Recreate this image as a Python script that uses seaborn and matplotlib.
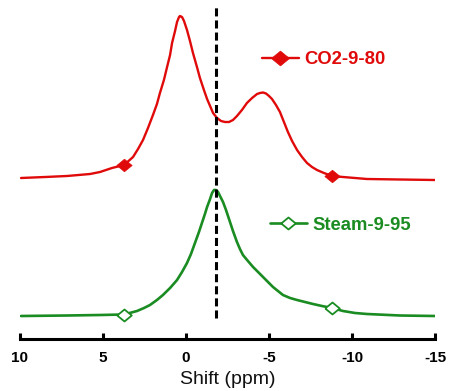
import matplotlib
matplotlib.use("Agg")
import matplotlib.pyplot as plt
from matplotlib.lines import Line2D
import numpy as np
import pandas as pd
import seaborn as sns

# Chemical shift axis (ppm) and spectrum intensities (arbitrary units above baseline)
co2_ppm = [9.94, 8.49, 7.17, 5.78, 5.18, 4.46, 3.73, 3.19, 2.89, 2.59, 2.29, 1.99,
           1.75, 1.57, 1.33, 1.14, 0.96, 0.84, 0.66, 0.54, 0.42, 0.36, 0.24, 0.12,
           -0.06, -0.24, -0.42, -0.66, -0.84, -1.08, -1.27, -1.45, -1.63, -1.87,
           -2.11, -2.35, -2.59, -2.83, -3.07, -3.37, -3.67, -3.98, -4.28, -4.46,
           -4.64, -4.82, -5.00, -5.18, -5.42, -5.66, -5.90, -6.14, -6.39, -6.69,
           -6.99, -7.29, -7.59, -7.89, -8.31, -8.80, -9.46, -10.90, -12.89, -15.00]
co2_int = [2, 3, 4, 6, 8, 12, 15, 23, 31, 40, 52, 65,
           76, 87, 100, 113, 125, 137, 149, 158, 163, 164, 163, 159,
           150, 139, 127, 113, 102, 90, 81, 74, 67, 62,
           59, 58, 58, 60, 64, 70, 77, 82, 86, 87,
           87.5, 86.5, 84, 81, 75, 68, 58, 48, 39, 30,
           23, 17, 13, 10, 7, 4, 3, 1, 0.5, 0]

steam_ppm = [9.94, 7.17, 5.18, 3.73, 2.95, 2.53, 2.17, 1.75, 1.39, 0.96, 0.54, 0.24,
             -0.06, -0.30, -0.54, -0.78, -0.96, -1.14, -1.27, -1.45, -1.57, -1.69,
             -1.81, -1.93, -2.05, -2.23, -2.41, -2.65, -2.83, -3.07, -3.25, -3.43,
             -3.73, -4.04, -4.34, -4.64, -4.94, -5.24, -5.54, -5.84, -6.27, -6.69,
             -7.17, -7.65, -8.19, -8.80, -9.46, -10.18, -10.90, -12.89, -15.00]
steam_int = [0, 0.5, 1, 1.5, 5, 8, 11, 16, 21, 28, 36, 44,
             53, 62, 73, 84, 93, 102, 109, 117, 123, 126,
             126, 124, 120, 114, 106, 94, 85, 74, 67, 61,
             55, 49, 44, 39, 34, 29, 25, 21, 18, 16,
             14, 12, 10, 8, 5, 3, 2, 0.5, 0]

marker_ppm = [3.73, -8.80]
series_labels = ["CO2-9-80", "Steam-9-95"]
x_ticks = [10, 5, 0, -5, -10, -15]
reference_ppm = -1.8

# Layout / style
RED = "#E00A0A"
GREEN = "#1A8C22"
CO2_OFFSET = 159
STEAM_OFFSET = 23
W, H = 449, 391

sns.set_theme(style="white")
plt.rcParams["font.family"] = ["Liberation Sans", "DejaVu Sans"]
plt.rcParams["lines.scale_dashes"] = False
plt.rcParams["lines.solid_joinstyle"] = "round"

fig = plt.figure(figsize=(W / 100, H / 100), dpi=100)
ax = fig.add_axes([20 / W, (H - 339) / H, 415 / W, 339 / H])

diamond = [(-1, 0), (0, 0.82), (1, 0), (0, -0.82), (-1, 0)]

co2 = pd.DataFrame({"ppm": co2_ppm, "y": np.array(co2_int) + CO2_OFFSET})
steam = pd.DataFrame({"ppm": steam_ppm, "y": np.array(steam_int) + STEAM_OFFSET})

sns.lineplot(data=co2, x="ppm", y="y", ax=ax, color=RED, linewidth=1.7, sort=False)
sns.lineplot(data=steam, x="ppm", y="y", ax=ax, color=GREEN, linewidth=1.9, sort=False)

co2_mk = co2[co2["ppm"].isin(marker_ppm)]
steam_mk = steam[steam["ppm"].isin(marker_ppm)]
ax.plot(co2_mk["ppm"], co2_mk["y"], linestyle="none", marker=diamond,
        markersize=11, color=RED, markeredgewidth=0.5, zorder=4)
ax.plot(steam_mk["ppm"], steam_mk["y"], linestyle="none", marker=diamond,
        markersize=10.5, markerfacecolor="white", markeredgecolor=GREEN,
        markeredgewidth=1.3, zorder=4)

# Dashed reference line
ax.plot([reference_ppm, reference_ppm], [21, 332], color="black",
        linewidth=2.2, dashes=(5.8, 2.9), zorder=3)

ax.set_xlim(10, -15)
ax.set_ylim(0, 339)
ax.set_xticks(x_ticks)
ax.set_xticklabels([str(t) for t in x_ticks], fontweight="bold", fontsize=11)
ax.set_yticks([])
ax.set_ylabel("")
ax.set_xlabel("Shift (ppm)", fontsize=14, labelpad=4, color="#111111")
sns.despine(ax=ax, left=True, top=True, right=True)
ax.spines["bottom"].set_linewidth(2.2)
ax.spines["bottom"].set_color("black")
ax.tick_params(axis="x", direction="in", length=4.5, width=2.2, colors="black",
               pad=9, bottom=True)

# Legends placed next to each trace
h_co2 = Line2D([], [], color=RED, linewidth=1.7, marker=diamond, markersize=13,
               markeredgewidth=0.5)
h_steam = Line2D([], [], color=GREEN, linewidth=1.9, marker=diamond, markersize=10.5,
                 markerfacecolor="white", markeredgecolor=GREEN, markeredgewidth=1.3)
common = dict(frameon=False, loc="center left", borderpad=0, borderaxespad=0,
              handlelength=2.0, handletextpad=0.3, numpoints=1,
              bbox_transform=fig.transFigure,
              prop={"weight": "bold", "size": 13.3})
leg1 = ax.legend([h_co2], [series_labels[0]], bbox_to_anchor=(262 / W, 1 - 60 / H),
                 labelcolor=RED, **common)
ax.add_artist(leg1)
ax.legend([h_steam], [series_labels[1]], bbox_to_anchor=(270 / W, 1 - 225 / H),
          labelcolor=GREEN, **common)

fig.savefig("out.png", dpi=100)
